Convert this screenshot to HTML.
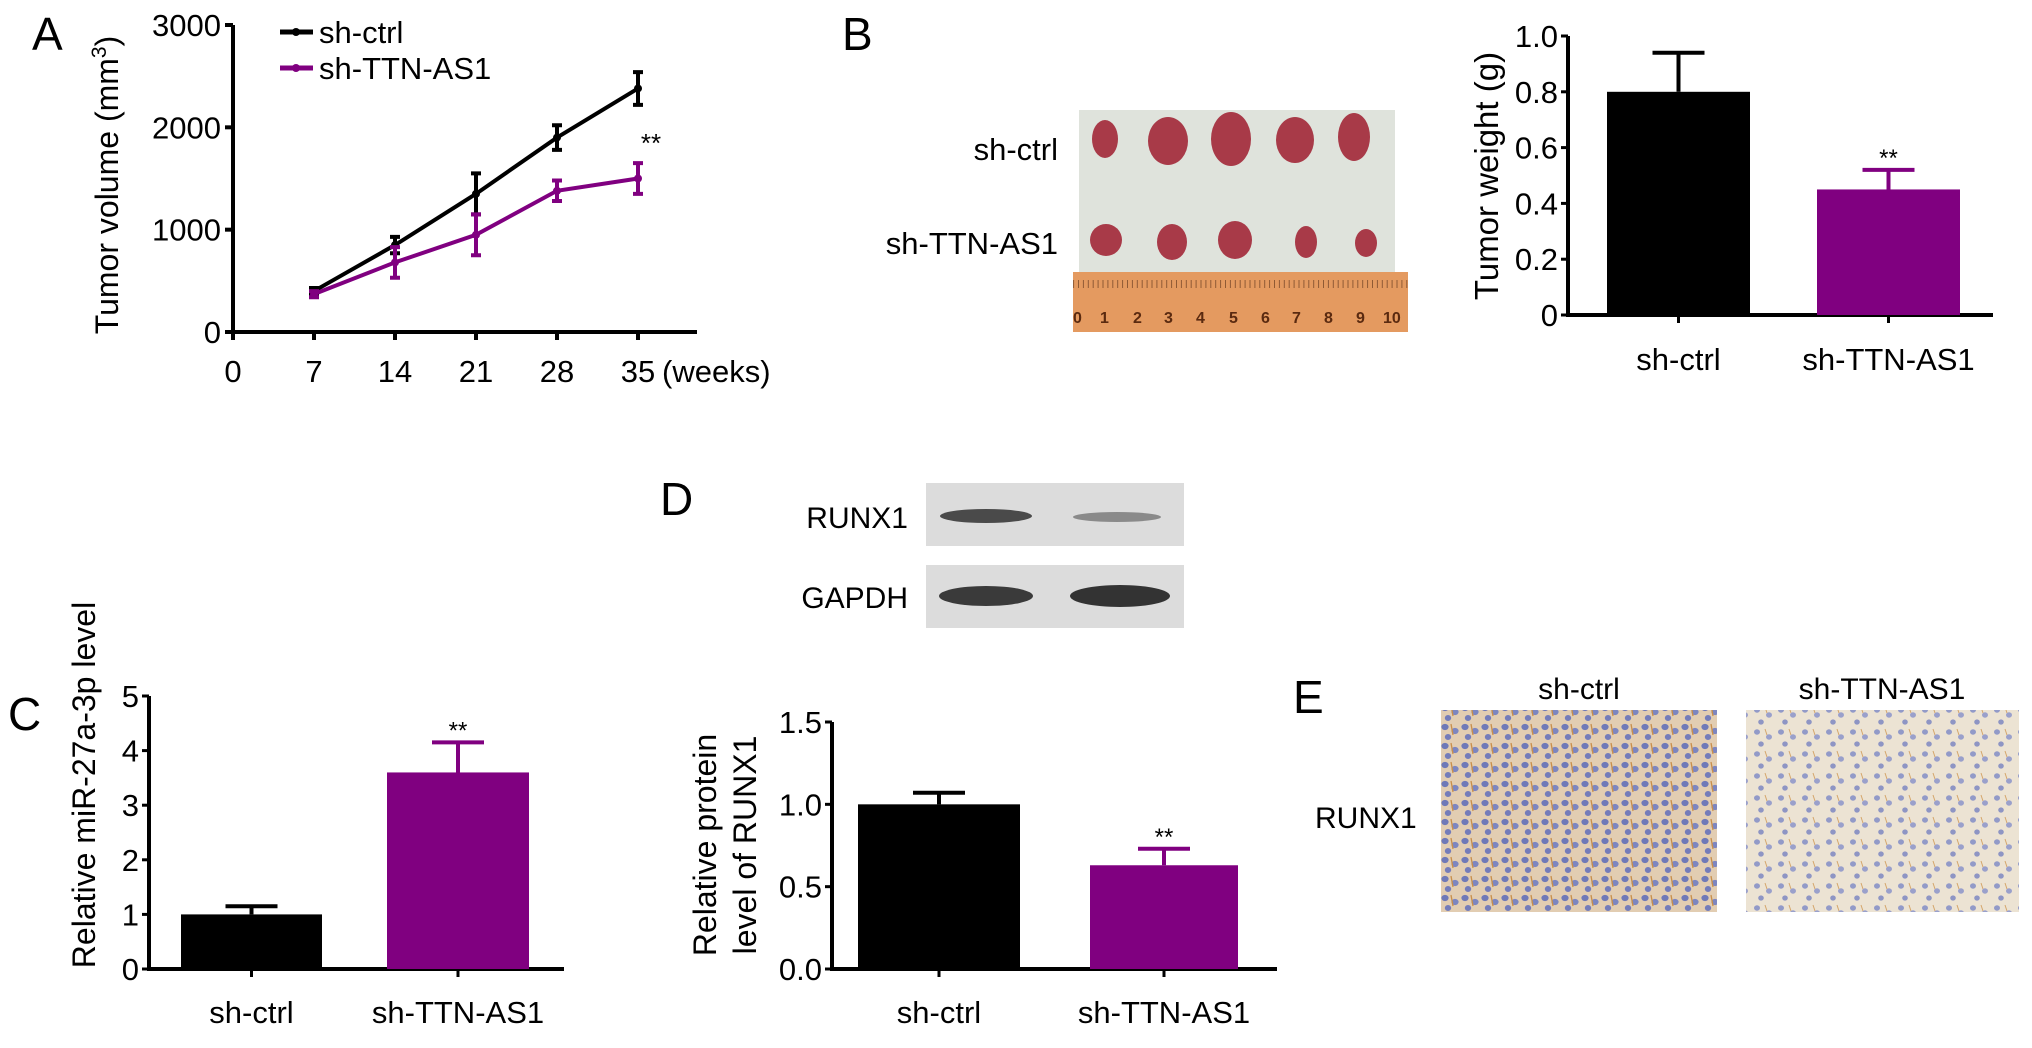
<!DOCTYPE html>
<html><head><meta charset="utf-8"><style>
html,body{margin:0;padding:0;background:#fff}
svg{display:block;font-family:"Liberation Sans",Arial,sans-serif}
</style></head><body>
<svg id="fig" width="2032" height="1048" viewBox="0 0 2032 1048" xmlns="http://www.w3.org/2000/svg">
<defs>
<pattern id="cellsA" width="20" height="19" patternUnits="userSpaceOnUse">
<rect width="20" height="19" fill="#e2cdb2"/>
<ellipse cx="5" cy="5" rx="3.6" ry="3.1" fill="#6f79b8"/>
<ellipse cx="15" cy="9" rx="3.6" ry="3.1" fill="#7d86c0"/>
<ellipse cx="8" cy="15" rx="3.2" ry="3" fill="#747cba"/>
<path d="M11 2 L13 13" stroke="#c98e4a" stroke-width="1.3"/>
</pattern>
<pattern id="cellsB" width="24" height="22" patternUnits="userSpaceOnUse">
<rect width="24" height="22" fill="#ece3d3"/>
<ellipse cx="5" cy="6" rx="3" ry="2.7" fill="#929ac8"/>
<ellipse cx="17" cy="11" rx="3" ry="2.7" fill="#9aa0cb"/>
<ellipse cx="9" cy="18" rx="2.8" ry="2.6" fill="#8e95c4"/>
<path d="M13 3 L15 9" stroke="#d4a56a" stroke-width="1"/>
</pattern>
<pattern id="ruler" width="4.9" height="20" patternUnits="userSpaceOnUse">
<rect width="4.9" height="20" fill="#e49a60"/>
<line x1="0.5" y1="0" x2="0.5" y2="12" stroke="#7a4a2a" stroke-width="0.8"/>
</pattern>
</defs>

<text x="32" y="50" font-size="46">A</text>
<g id="chartA"></g>

<text x="842" y="50" font-size="46">B</text>
<g>
<rect x="1079" y="110" width="316" height="162" fill="#dfe3dc"/>
<g fill="#a83a48">
<ellipse cx="1105" cy="139" rx="13" ry="19"/><ellipse cx="1168" cy="141" rx="20" ry="24"/><ellipse cx="1231" cy="139" rx="20" ry="27"/><ellipse cx="1295" cy="140" rx="19" ry="23"/><ellipse cx="1354" cy="137" rx="16" ry="24"/>
<ellipse cx="1106" cy="240" rx="16" ry="16"/><ellipse cx="1172" cy="242" rx="15" ry="18"/><ellipse cx="1235" cy="240" rx="17" ry="19"/><ellipse cx="1306" cy="242" rx="11" ry="16"/><ellipse cx="1366" cy="243" rx="11" ry="14"/>
</g>
<rect x="1073" y="272" width="335" height="60" fill="#e49a60"/>
<rect x="1073" y="274" width="335" height="14" fill="url(#ruler)"/>
<g font-size="16" fill="#5a2a10" font-weight="bold">
<text x="1073" y="323">0</text><text x="1100" y="323">1</text><text x="1133" y="323">2</text><text x="1164" y="323">3</text><text x="1196" y="323">4</text><text x="1229" y="323">5</text><text x="1261" y="323">6</text><text x="1292" y="323">7</text><text x="1324" y="323">8</text><text x="1356" y="323">9</text><text x="1383" y="323">10</text>
</g>
</g>
<text x="1058" y="160" font-size="31" text-anchor="end">sh-ctrl</text>
<text x="1058" y="254" font-size="31" text-anchor="end">sh-TTN-AS1</text>
<g id="chartB"></g>

<text x="8" y="730" font-size="46">C</text>
<g id="chartC"></g>

<text x="660" y="515" font-size="46">D</text>
<g>
<rect x="926" y="483" width="258" height="63" fill="#dcdcdc"/>
<rect x="926" y="565" width="258" height="63" fill="#dcdcdc"/>
<ellipse cx="986" cy="516" rx="46" ry="7" fill="#4a4a4a"/>
<ellipse cx="1117" cy="517" rx="44" ry="5" fill="#8a8a8a"/>
<ellipse cx="986" cy="596" rx="47" ry="10" fill="#3a3a3a"/>
<ellipse cx="1120" cy="596" rx="50" ry="11" fill="#333"/>
<text x="908" y="528" font-size="30" text-anchor="end">RUNX1</text>
<text x="908" y="608" font-size="30" text-anchor="end">GAPDH</text>
</g>
<g id="chartD"></g>

<text x="1293" y="713" font-size="46">E</text>
<text x="1579" y="699" font-size="30" text-anchor="middle">sh-ctrl</text>
<text x="1882" y="699" font-size="30" text-anchor="middle">sh-TTN-AS1</text>
<text x="1315" y="828" font-size="30">RUNX1</text>
<rect x="1441" y="710" width="276" height="202" fill="url(#cellsA)"/>
<rect x="1746" y="710" width="273" height="202" fill="url(#cellsB)"/>
</svg>
<script>
// Panel A data
const weeks = [7, 14, 21, 28, 35];
const xTicksA = [0, 7, 14, 21, 28, 35];
const yTicksA = [0, 1000, 2000, 3000];
const ctrlVol = [400, 850, 1350, 1900, 2380];
const ctrlErr = [30, 80, 200, 120, 160];
const ttnVol = [370, 680, 950, 1380, 1500];
const ttnErr = [30, 150, 200, 100, 150];
// Bar data
const groups = ['sh-ctrl', 'sh-TTN-AS1'];
const weightVals = [0.8, 0.45];
const weightErr = [0.14, 0.07];
const weightTicks = ['0', '0.2', '0.4', '0.6', '0.8', '1.0'];
const mirVals = [1.0, 3.6];
const mirErr = [0.15, 0.55];
const mirTicks = ['0', '1', '2', '3', '4', '5'];
const protVals = [1.0, 0.63];
const protErr = [0.07, 0.1];
const protTicks = ['0.0', '0.5', '1.0', '1.5'];

const NS = 'http://www.w3.org/2000/svg';
function mk(parent, tag, attrs, text) {
  const e = document.createElementNS(NS, tag);
  for (const k in attrs) e.setAttribute(k, attrs[k]);
  if (text !== undefined) e.textContent = text;
  parent.appendChild(e);
  return e;
}
const PURPLE = '#800080';
const FS = 31;

(function () {
  const g = document.getElementById('chartA');
  const x0 = 233, xEnd = 697, yTop = 25, yBot = 332;
  const xs = v => 233 + (v / 35) * (638 - 233);
  const ys = v => yBot - (v / 3000) * (yBot - yTop);
  let el = mk(g, 'line', {x1: x0, y1: yTop, x2: x0, y2: yBot + 2, stroke: '#000', 'stroke-width': 4});
  
  
  el = mk(g, 'line', {x1: x0 - 2, y1: yBot, x2: xEnd, y2: yBot, stroke: '#000', 'stroke-width': 4});
  
  
  yTicksA.forEach(t => {
    mk(g, 'line', {x1: x0 - 8, y1: ys(t), x2: x0, y2: ys(t), stroke: '#000', 'stroke-width': 4});
    const tx = mk(g, 'text', {x: x0 - 12, y: ys(t) + 11, 'font-size': FS, 'text-anchor': 'end'}, String(t));
    
    
  });
  xTicksA.forEach(t => {
    mk(g, 'line', {x1: xs(t), y1: yBot, x2: xs(t), y2: yBot + 8, stroke: '#000', 'stroke-width': 4});
    const tx = mk(g, 'text', {x: xs(t), y: yBot + 50, 'font-size': FS, 'text-anchor': 'middle'}, String(t));
    
    
  });
  let u = mk(g, 'text', {x: 662, y: yBot + 50, 'font-size': FS}, '(weeks)');
  
  
  const title = mk(g, 'text', {transform: 'translate(118,185) rotate(-90)', 'font-size': 32, 'text-anchor': 'middle'});
  
  
  title.appendChild(document.createTextNode('Tumor volume (mm'));
  mk(title, 'tspan', {'font-size': 21, dy: -12}, '3');
  mk(title, 'tspan', {dy: 12}, ')');
  function series(vals, errs, color, name) {
    const pts = vals.map((v, i) => xs(weeks[i]) + ',' + ys(v)).join(' ');
    const pl = mk(g, 'polyline', {points: pts, fill: 'none', stroke: color, 'stroke-width': 4});
    
    
    vals.forEach((v, i) => {
      const x = xs(weeks[i]);
      const eb = mk(g, 'path', {d: `M${x},${ys(v - errs[i])}V${ys(v + errs[i])}M${x - 5},${ys(v - errs[i])}h10M${x - 5},${ys(v + errs[i])}h10`, stroke: color, 'stroke-width': 4, fill: 'none'});
      
      
      mk(g, 'circle', {cx: x, cy: ys(v), r: 4, fill: color});
    });
  }
  series(ctrlVol, ctrlErr, '#000', 'sh-ctrl');
  series(ttnVol, ttnErr, PURPLE, 'sh-ttn-as1');
  let s = mk(g, 'text', {x: 651, y: 152, 'font-size': 26, 'text-anchor': 'middle'}, '**');
  
  
  [['#000', 32, 'sh-ctrl'], [PURPLE, 68, 'sh-TTN-AS1']].forEach(([c, y, t]) => {
    const lg = mk(g, 'g', {});
    
    
    mk(lg, 'line', {x1: 280, y1: y, x2: 313, y2: y, stroke: c, 'stroke-width': 5});
    mk(lg, 'circle', {cx: 296, cy: y, r: 4, fill: c});
    mk(lg, 'text', {x: 319, y: y + 11, 'font-size': FS}, t);
  });
})();

function barChart(id, cfg) {
  const g = document.getElementById(id);
  const {x0, xEnd, yTop, yBot, max, ticks, vals, errs, bars, labelY, titleX, titleLines} = cfg;
  const ys = v => yBot - (v / max) * (yBot - yTop);
  let el = mk(g, 'line', {x1: x0, y1: yTop, x2: x0, y2: yBot + 2, stroke: '#000', 'stroke-width': 4});
  
  
  el = mk(g, 'line', {x1: x0 - 2, y1: yBot, x2: xEnd, y2: yBot, stroke: '#000', 'stroke-width': 4});
  
  
  ticks.forEach(t => {
    const y = ys(parseFloat(t));
    mk(g, 'line', {x1: x0 - 7, y1: y, x2: x0, y2: y, stroke: '#000', 'stroke-width': 3});
    const tx = mk(g, 'text', {x: x0 - 10, y: y + 11, 'font-size': FS, 'text-anchor': 'end'}, t);
    
    
  });
  vals.forEach((v, i) => {
    const [bx0, bx1] = bars[i];
    const c = i === 0 ? '#000' : PURPLE;
    const cx = (bx0 + bx1) / 2;
    const top = ys(v + errs[i]);
    const eb = mk(g, 'path', {d: `M${cx},${ys(v)}V${top}M${cx - 26},${top}h52`, stroke: c, 'stroke-width': 4, fill: 'none'});
    
    
    const r = mk(g, 'rect', {x: bx0, y: ys(v), width: bx1 - bx0, height: yBot - ys(v), fill: c});
    
    
    mk(g, 'line', {x1: cx, y1: yBot, x2: cx, y2: yBot + 8, stroke: '#000', 'stroke-width': 3});
    const lb = mk(g, 'text', {x: cx, y: labelY, 'font-size': FS, 'text-anchor': 'middle'}, groups[i]);
    
    
    if (i === 1) {
      const s = mk(g, 'text', {x: cx, y: top - 4, 'font-size': 24, 'text-anchor': 'middle'}, '**');
      
      
    }
  });
  titleLines.forEach((t, i) => {
    const tt = mk(g, 'text', {transform: `translate(${titleX + i * 40},${cfg.titleY}) rotate(-90)`, 'font-size': cfg.fs || 32, 'text-anchor': 'middle'}, t);
    
    
  });
}
barChart('chartB', {x0: 1568, xEnd: 1993, yTop: 36, yBot: 315, max: 1.0, ticks: weightTicks, vals: weightVals, errs: weightErr, bars: [[1607, 1750], [1817, 1960]], labelY: 370, titleX: 1498, titleY: 176, titleLines: ['Tumor weight (g)'], fs: 33});
barChart('chartC', {x0: 149, xEnd: 564, yTop: 696, yBot: 969, max: 5, ticks: mirTicks, vals: mirVals, errs: mirErr, bars: [[181, 322], [387, 529]], labelY: 1023, titleX: 95, titleY: 785, titleLines: ['Relative miR-27a-3p level']});
barChart('chartD', {x0: 832, xEnd: 1277, yTop: 722, yBot: 969, max: 1.5, ticks: protTicks, vals: protVals, errs: protErr, bars: [[858, 1020], [1090, 1238]], labelY: 1023, titleX: 716, titleY: 845, titleLines: ['Relative protein', 'level of RUNX1']});
</script>
</body></html>
